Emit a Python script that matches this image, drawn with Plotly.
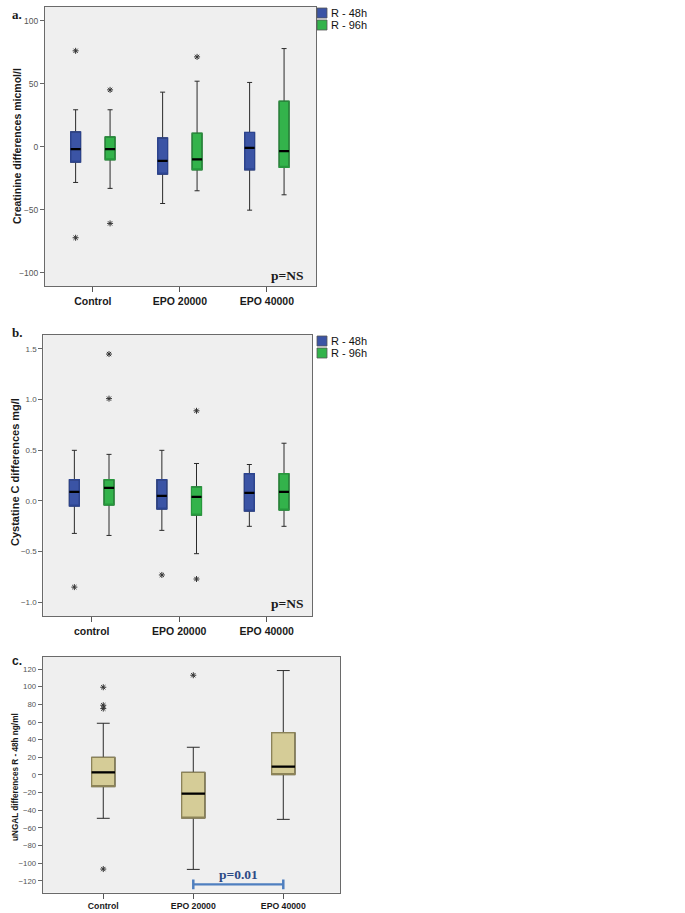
import numpy as np
import plotly.graph_objects as go

W, H = 685, 913

# ---------------- data ----------------
series = ["R - 48h", "R - 96h"]

# Panel a: Creatinine differences (micmol/l)
cat_a = ["Control", "EPO 20000", "EPO 40000"]
cre48_q1 = [-12.2, -21.7, -18.3]
cre48_med = [-1.9, -11.1, -0.8]
cre48_q3 = [11.9, 7.1, 11.4]
cre48_lo = [-28.3, -45.0, -50.3]
cre48_hi = [29.4, 43.4, 51.1]
cre48_out_cat = ["Control", "Control"]
cre48_out_val = [76.2, -72.2]

cre96_q1 = [-10.3, -18.3, -16.4]
cre96_med = [-1.9, -10.0, -3.4]
cre96_q3 = [7.9, 10.8, 36.2]
cre96_lo = [-33.0, -34.9, -38.1]
cre96_hi = [29.4, 52.1, 78.0]
cre96_out_cat = ["Control", "Control", "EPO 20000"]
cre96_out_val = [45.2, -60.8, 71.4]

# Panel b: Cystatine C differences (mg/l)
cat_b = ["control", "EPO 20000", "EPO 40000"]
cys48_q1 = [-0.05, -0.08, -0.10]
cys48_med = [0.09, 0.05, 0.08]
cys48_q3 = [0.21, 0.21, 0.27]
cys48_lo = [-0.32, -0.29, -0.25]
cys48_hi = [0.50, 0.50, 0.36]
cys48_out_cat = ["control", "EPO 20000"]
cys48_out_val = [-0.85, -0.73]

cys96_q1 = [-0.04, -0.14, -0.09]
cys96_med = [0.13, 0.04, 0.09]
cys96_q3 = [0.21, 0.14, 0.27]
cys96_lo = [-0.34, -0.52, -0.25]
cys96_hi = [0.46, 0.37, 0.57]
cys96_out_cat = ["control", "control", "EPO 20000", "EPO 20000"]
cys96_out_val = [1.45, 1.01, 0.89, -0.77]

# Panel c: uNGAL differences R - 48h (ng/ml)
cat_c = ["Control", "EPO 20000", "EPO 40000"]
ngal_q1 = [-13.2, -48.8, 0.4]
ngal_med = [3.0, -21.2, 9.4]
ngal_q3 = [20.0, 3.0, 48.0]
ngal_lo = [-49.1, -107.0, -50.3]
ngal_hi = [58.6, 31.4, 118.3]
ngal_out_cat = ["Control", "Control", "Control", "Control", "EPO 20000"]
ngal_out_val = [99.4, 79.0, 75.2, -106.6, 113.0]

p_c_pair = ["EPO 20000", "EPO 40000"]
p_c_level = -124
p_c_text = "p=0.01"

# ---------------- styles ----------------
BLUE, BLUE_EDGE = "#3b54a5", "#2c4490"
GREEN, GREEN_EDGE = "#33b34b", "#26983c"
TAN, TAN_EDGE = "#d5cc97", "#8c8358"
WHISK = "#2a2a2a"
BG = "#efefef"
FRAME = "#6a6a6a"

fig = go.Figure()


def add_box(cats, q1, med, q3, lo, hi, offset, width, fill, edge, xa, ya, wwidth=0.5):
    pos = np.arange(len(cats)) + offset
    common = dict(x=pos, width=width, xaxis=xa, yaxis=ya, showlegend=False,
                  boxpoints=False, hoverinfo="skip")
    # fill + whiskers
    fig.add_trace(go.Box(q1=q1, median=med, q3=q3, lowerfence=lo, upperfence=hi,
                         fillcolor=fill, line=dict(color=WHISK, width=1),
                         whiskerwidth=wwidth, **common))
    # coloured box outline
    fig.add_trace(go.Box(q1=q1, median=q1, q3=q3, lowerfence=q1, upperfence=q3,
                         fillcolor="rgba(0,0,0,0)", line=dict(color=edge, width=1.2),
                         whiskerwidth=0, **common))
    # thick black median
    fig.add_trace(go.Box(q1=med, median=med, q3=med, lowerfence=med, upperfence=med,
                         fillcolor="rgba(0,0,0,0)", line=dict(color="#000000", width=2.2),
                         whiskerwidth=0, **common))


def add_out(cats, out_cat, out_val, offset, xa, ya):
    pos = [cats.index(c) + offset for c in out_cat]
    fig.add_trace(go.Scatter(x=pos, y=out_val, mode="markers", xaxis=xa, yaxis=ya,
                             marker=dict(symbol="asterisk-open", size=5, color="#333333",
                                         line=dict(color="#333333", width=1)),
                             showlegend=False, hoverinfo="skip"))


OFF = 0.198
BW = 0.115
# panel a
add_box(cat_a, cre48_q1, cre48_med, cre48_q3, cre48_lo, cre48_hi, -OFF, BW, BLUE, BLUE_EDGE, "x", "y")
add_box(cat_a, cre96_q1, cre96_med, cre96_q3, cre96_lo, cre96_hi, OFF, BW, GREEN, GREEN_EDGE, "x", "y")
add_out(cat_a, cre48_out_cat, cre48_out_val, -OFF, "x", "y")
add_out(cat_a, cre96_out_cat, cre96_out_val, OFF, "x", "y")
# panel b
add_box(cat_b, cys48_q1, cys48_med, cys48_q3, cys48_lo, cys48_hi, -OFF, BW, BLUE, BLUE_EDGE, "x2", "y2")
add_box(cat_b, cys96_q1, cys96_med, cys96_q3, cys96_lo, cys96_hi, OFF, BW, GREEN, GREEN_EDGE, "x2", "y2")
add_out(cat_b, cys48_out_cat, cys48_out_val, -OFF, "x2", "y2")
add_out(cat_b, cys96_out_cat, cys96_out_val, OFF, "x2", "y2")
# panel c
add_box(cat_c, ngal_q1, ngal_med, ngal_q3, ngal_lo, ngal_hi, 0.0, 0.26, TAN, TAN_EDGE, "x3", "y3", wwidth=0.55)
add_out(cat_c, ngal_out_cat, ngal_out_val, 0.0, "x3", "y3")

# significance bracket panel c
bx = [cat_c.index(c) for c in p_c_pair]
fig.add_trace(go.Scatter(x=bx, y=[p_c_level] * 2, mode="lines+markers", xaxis="x3", yaxis="y3",
                         line=dict(color="#4f7fbf", width=2.2),
                         marker=dict(symbol="line-ns-open", size=7, color="#4f7fbf",
                                     line=dict(color="#4f7fbf", width=2.5)),
                         showlegend=False, hoverinfo="skip"))


def px_x(p):
    return p / W


def px_y(p):
    return 1 - p / H


def xaxis(cats, dom, rng, anchor, fs):
    return dict(domain=dom, range=rng, anchor=anchor, tickmode="array",
                tickvals=list(range(len(cats))), ticktext=cats,
                ticks="outside", ticklen=5, tickcolor="#555", tickwidth=1,
                showline=True, mirror=True, linecolor=FRAME, linewidth=1,
                showgrid=False, zeroline=False,
                tickfont=dict(family="Arial, Liberation Sans", size=fs, color="#1a1a1a",
                              weight="bold"))


def yaxis(dom, rng, anchor, dtick, fmt, fs):
    return dict(domain=dom, range=rng, anchor=anchor, dtick=dtick, tick0=0,
                tickformat=fmt, ticks="outside", ticklen=4, tickcolor="#666",
                tickwidth=1, showline=True, mirror=True, linecolor=FRAME, linewidth=1,
                showgrid=False, zeroline=False,
                tickfont=dict(family="Arial, Liberation Sans", size=fs, color="#555"))


layout = dict(
    width=W, height=H, margin=dict(l=0, r=0, t=0, b=0),
    paper_bgcolor="white", plot_bgcolor=BG, showlegend=False, boxmode="overlay",
    xaxis=xaxis(cat_a, [px_x(45), px_x(316)], [-0.55, 2.565], "y", 10.5),
    yaxis=yaxis([px_y(286), px_y(7)], [-110.5, 111], "x", 50, "d", 8.5),
    xaxis2=xaxis(cat_b, [px_x(43.3), px_x(312)], [-0.553, 2.518], "y2", 10.5),
    yaxis2=yaxis([px_y(616), px_y(335)], [-1.135, 1.638], "x2", 0.5, ".1f", 8),
    xaxis3=xaxis(cat_c, [px_x(42.7), px_x(340)], [-0.673, 2.63], "y3", 8.7),
    yaxis3=yaxis([px_y(892.7), px_y(656.7)], [-133.4, 134], "x3", 20, "d", 7.8),
)

ann = []


def note(text, x, y, size, family="Arial, Liberation Sans", color="#1a1a1a", angle=0, bold=True):
    ann.append(dict(text=f"<b>{text}</b>" if bold else text, x=px_x(x), y=px_y(y),
                    xref="paper", yref="paper", showarrow=False, textangle=angle,
                    xanchor="center", yanchor="middle",
                    font=dict(family=family, size=size, color=color)))


SERIF = "Liberation Serif, Times New Roman"
note("a.", 17, 14, 13, family=SERIF)
note("b.", 17, 333, 13, family=SERIF)
note("c.", 17, 661, 12)
note("Creatinine differences micmol/l", 17, 146, 10.5, angle=-90)
note("Cystatine C differences mg/l", 15, 472, 11, angle=-90)
note("uNGAL differences R - 48h ng/ml", 15, 777, 8.2, angle=-90)
note("p=NS", 287, 275, 13.5, family=SERIF)
note("p=NS", 287, 603, 13.5, family=SERIF)

# p=0.01 label above bracket
ann.append(dict(text=f"<b>{p_c_text}</b>", x=np.mean(bx), y=p_c_level, xref="x3", yref="y3",
                showarrow=False, yanchor="bottom", yshift=0,
                font=dict(family=SERIF, size=13.5, color="#2d4a85")))

# custom legends (panels a and b)
shapes = []
for top in (8, 336):
    for i, (name, col) in enumerate(zip(series, [BLUE, GREEN])):
        y0 = top + i * 12
        shapes.append(dict(type="rect", xref="paper", yref="paper",
                           x0=px_x(317), x1=px_x(327), y0=px_y(y0 + 10), y1=px_y(y0),
                           fillcolor=col, line=dict(color="#555", width=0.8)))
        ann.append(dict(text=name, x=px_x(328.5), y=px_y(y0 + 5), xref="paper", yref="paper",
                        showarrow=False, xanchor="left", yanchor="middle",
                        font=dict(family="Arial, Liberation Sans", size=11, color="#111")))

layout["annotations"] = ann
layout["shapes"] = shapes
fig.update_layout(**layout)

fig.write_html("out.html", config={"displayModeBar": False},
               post_script="document.body.style.margin='0px';document.body.style.overflow='hidden';")
